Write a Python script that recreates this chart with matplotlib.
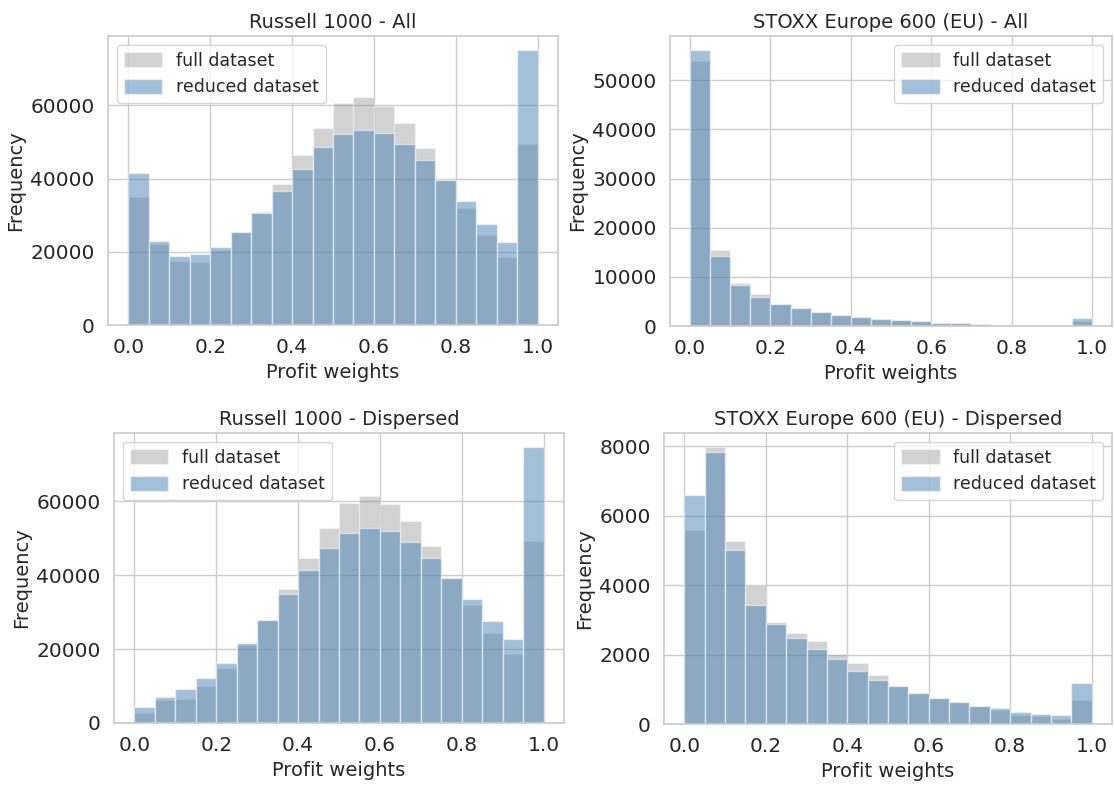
import numpy as np
import matplotlib
matplotlib.use("Agg")
import matplotlib.pyplot as plt
import seaborn as sns

# 20 bins over [0, 1], counts
bin_edges = np.linspace(0, 1, 21)

# Russell 1000 - All
r_all_full = [35000, 22100, 17500, 17200, 20500, 25400, 31000, 38600, 46500, 53900,
              60600, 62300, 59900, 55200, 48400, 39500, 32000, 24600, 18600, 49500]
r_all_red = [41500, 23000, 18900, 19300, 21300, 25400, 30500, 36600, 42700, 48500,
             52200, 53400, 52400, 49400, 45000, 39500, 33800, 27600, 22800, 75200]

# STOXX Europe 600 - All
s_all_full = [53900, 15400, 8800, 6600, 4560, 3670, 2920, 2310, 1900, 1430,
              1160, 950, 680, 545, 340, 270, 200, 140, 140, 1090]
s_all_red = [56200, 14300, 8400, 5900, 4560, 3670, 2920, 2310, 1900, 1430,
             1160, 950, 680, 545, 340, 270, 200, 140, 140, 1630]

# Russell 1000 - Dispersed
r_disp_full = [2700, 6300, 6400, 9900, 14800, 21100, 28000, 36200, 44700, 52800,
               59700, 61500, 59200, 54700, 48000, 39400, 32000, 24500, 18600, 49300]
r_disp_red = [4250, 7100, 9100, 12300, 16200, 21700, 28000, 34900, 41400, 47500,
              51400, 52800, 52000, 49000, 44700, 39400, 33700, 27500, 22700, 74800]

# STOXX Europe 600 - Dispersed
s_disp_full = [5580, 7980, 5260, 3990, 2930, 2630, 2390, 2020, 1760, 1420,
               1090, 900, 740, 635, 510, 394, 250, 221, 154, 683]
s_disp_red = [6600, 7840, 5000, 3440, 2875, 2470, 2170, 1860, 1540, 1270,
              1090, 900, 740, 635, 510, 452, 356, 298, 269, 1170]

titles = ["Russell 1000 - All", "STOXX Europe 600 (EU) - All",
          "Russell 1000 - Dispersed", "STOXX Europe 600 (EU) - Dispersed"]

sns.set_theme(style="whitegrid")
plt.rcParams['font.family'] = ['DejaVu Sans']

fig = plt.figure(figsize=(11.14, 7.88), dpi=100)
W, H = 1114, 788
# axes boxes in pixels: left, top, right, bottom
boxes = [(108, 36, 558, 325), (670, 36, 1112, 326),
         (114, 433, 564, 723), (664, 433, 1112, 724)]
data = [(r_all_full, r_all_red), (s_all_full, s_all_red),
        (r_disp_full, r_disp_red), (s_disp_full, s_disp_red)]
leg_loc = ["upper left", "upper right", "upper left", "upper right"]

for i in range(4):
    l, t, r, b = boxes[i]
    ax = fig.add_axes([l / W, 1 - b / H, (r - l) / W, (b - t) / H])
    full, red = data[i]
    width = np.diff(bin_edges)
    ax.bar(bin_edges[:-1], full, width=width, align='edge', color='gray', alpha=0.35,
           edgecolor='white', linewidth=1, label='full dataset')
    ax.bar(bin_edges[:-1], red, width=width, align='edge', color='steelblue', alpha=0.5,
           edgecolor='white', linewidth=1, label='reduced dataset')
    ax.set_title(titles[i], fontsize=14)
    ax.set_xlabel("Profit weights", fontsize=14)
    ax.set_ylabel("Frequency", fontsize=14)
    ax.tick_params(labelsize=14.5)
    ax.legend(loc=leg_loc[i], fontsize=12.5, handleheight=0.9, handlelength=2.2)

fig.savefig("out.png", dpi=100)
